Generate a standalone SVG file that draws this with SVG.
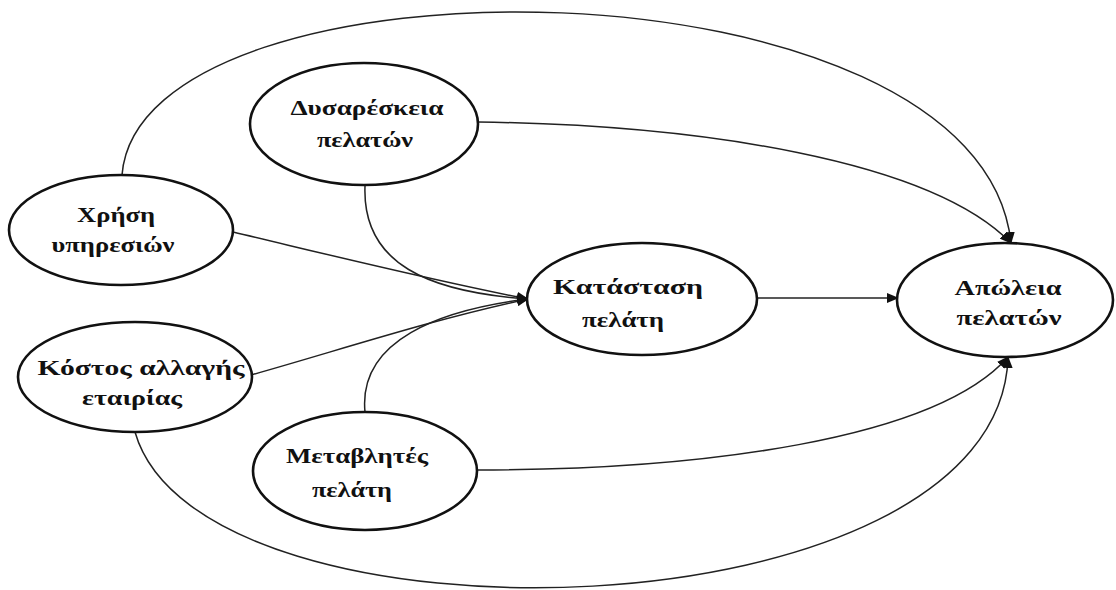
<svg xmlns="http://www.w3.org/2000/svg" width="1116" height="590" viewBox="0 0 1116 590">
  <defs>
    <marker id="arrow" viewBox="0 0 12 10" refX="11" refY="5" markerWidth="12" markerHeight="10" markerUnits="userSpaceOnUse" orient="auto">
      <path d="M0,0 L12,5 L0,10 Z" fill="#111"/>
    </marker>
    <style>
      .node ellipse { fill: #fff; stroke: #111; stroke-width: 2.6; }
      .node text { font-family: "Liberation Serif", "DejaVu Serif", "Times New Roman", serif; font-weight: bold; font-size: 22px; fill: #111; text-anchor: middle; }
      .edge { fill: none; stroke: #222; stroke-width: 1.5; }
    </style>
  </defs>
  <rect width="1116" height="590" fill="#fff"/>

  <g id="connectors">
    <!-- long arc over the top: usage -> churn -->
    <path class="edge" marker-end="url(#arrow)" d="M122,175 C140,-55 980,-50 1011,243"/>
    <!-- dissatisfaction -> churn -->
    <path class="edge" marker-end="url(#arrow)" d="M478,122 C700,125 930,160 1011,243"/>
    <!-- dissatisfaction -> customer status -->
    <path class="edge" marker-end="url(#arrow)" d="M365,186 C362,265 430,292 528,299"/>
    <!-- usage -> customer status -->
    <path class="edge" marker-end="url(#arrow)" d="M233,232 C330,255 430,280 528,299"/>
    <!-- switching cost -> customer status -->
    <path class="edge" marker-end="url(#arrow)" d="M251,375 C340,350 430,320 528,299"/>
    <!-- customer variables -> customer status -->
    <path class="edge" marker-end="url(#arrow)" d="M365,412 C358,340 440,310 528,299"/>
    <!-- customer status -> churn -->
    <path class="edge" marker-end="url(#arrow)" d="M757,298 L898,298"/>
    <!-- customer variables -> churn -->
    <path class="edge" marker-end="url(#arrow)" d="M477,470 C700,470 935,440 1008,357"/>
    <!-- long arc underneath: switching cost -> churn -->
    <path class="edge" marker-end="url(#arrow)" d="M135,432 C200,660 1000,640 1008,357"/>
  </g>

  <g id="node-dissatisfaction" class="node">
    <ellipse cx="364" cy="124" rx="114" ry="61"/>
    <text x="367" y="115" textLength="153" lengthAdjust="spacingAndGlyphs">Δυσαρέσκεια</text>
    <text x="365" y="147" textLength="96" lengthAdjust="spacingAndGlyphs">πελατών</text>
  </g>

  <g id="node-usage" class="node">
    <ellipse cx="121" cy="230" rx="112" ry="55"/>
    <text x="116" y="222" textLength="78" lengthAdjust="spacingAndGlyphs">Χρήση</text>
    <text x="113" y="252" textLength="123" lengthAdjust="spacingAndGlyphs">υπηρεσιών</text>
  </g>

  <g id="node-switching-cost" class="node">
    <ellipse cx="135" cy="377" rx="117" ry="55"/>
    <text x="141" y="375" textLength="207" lengthAdjust="spacingAndGlyphs">Κόστος αλλαγής</text>
    <text x="132" y="405" textLength="100" lengthAdjust="spacingAndGlyphs">εταιρίας</text>
  </g>

  <g id="node-customer-status" class="node">
    <ellipse cx="642" cy="299" rx="115" ry="56"/>
    <text x="628" y="294" textLength="150" lengthAdjust="spacingAndGlyphs">Κατάσταση</text>
    <text x="623" y="327" textLength="82" lengthAdjust="spacingAndGlyphs">πελάτη</text>
  </g>

  <g id="node-churn" class="node">
    <ellipse cx="1005" cy="300" rx="108" ry="57"/>
    <text x="1008" y="295" textLength="107" lengthAdjust="spacingAndGlyphs">Απώλεια</text>
    <text x="1009" y="325" textLength="105" lengthAdjust="spacingAndGlyphs">πελατών</text>
  </g>

  <g id="node-customer-variables" class="node">
    <ellipse cx="365" cy="471" rx="112" ry="59"/>
    <text x="357" y="463" textLength="142" lengthAdjust="spacingAndGlyphs">Μεταβλητές</text>
    <text x="352" y="497" textLength="80" lengthAdjust="spacingAndGlyphs">πελάτη</text>
  </g>
</svg>
